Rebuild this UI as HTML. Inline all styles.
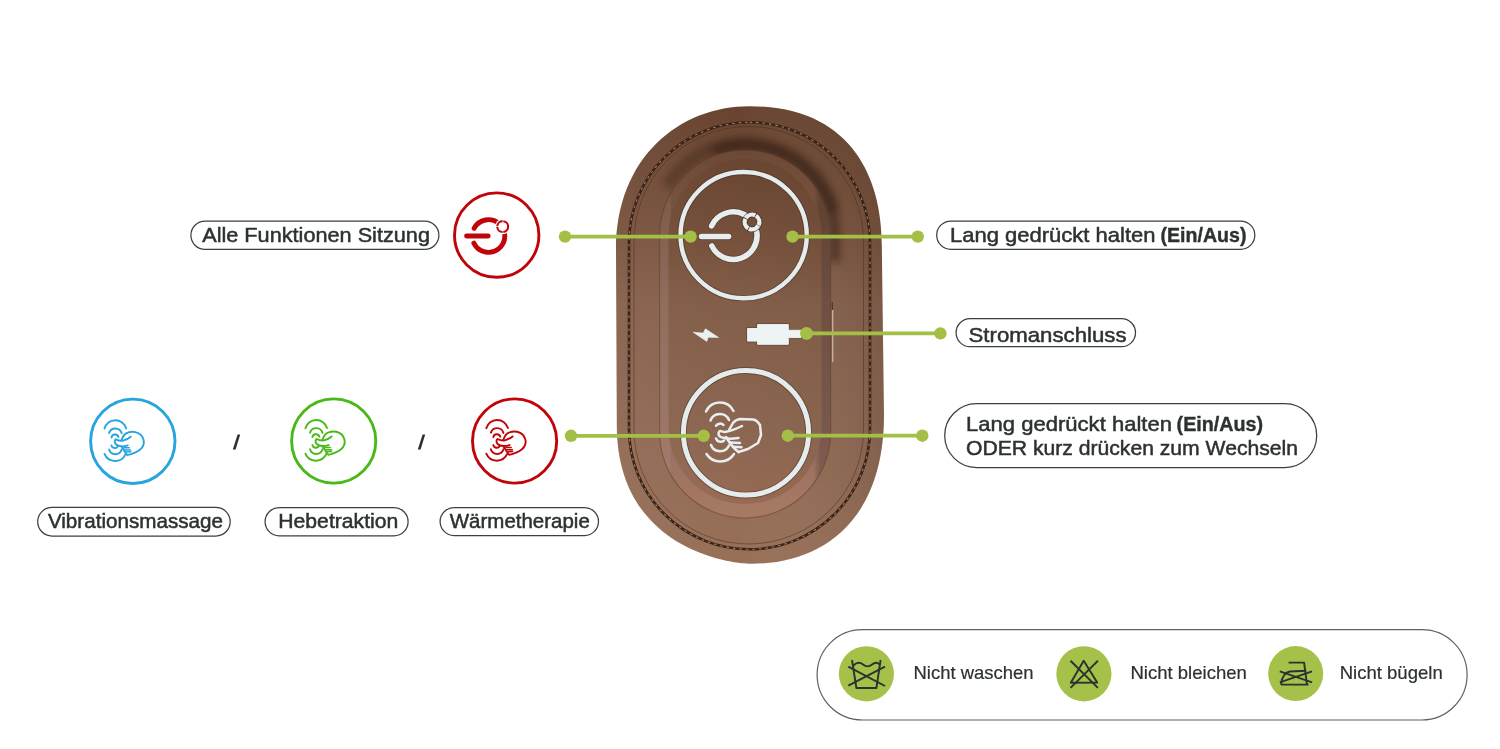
<!DOCTYPE html>
<html><head><meta charset="utf-8"><style>
html,body{margin:0;padding:0;background:#fff}
body{width:1500px;height:749px;overflow:hidden;position:relative;font-family:"Liberation Sans",sans-serif}
svg{position:absolute;left:0;top:0;will-change:transform}
</style></head><body>
<svg width="1500" height="749" viewBox="0 0 1500 749">
<defs>
  <linearGradient id="gOuter" x1="0" y1="106" x2="0" y2="565" gradientUnits="userSpaceOnUse">
    <stop offset="0" stop-color="#684430"/>
    <stop offset="0.28" stop-color="#7a553f"/>
    <stop offset="0.43" stop-color="#87624e"/>
    <stop offset="0.74" stop-color="#916b55"/>
    <stop offset="1" stop-color="#987058"/>
  </linearGradient>
  <linearGradient id="gInner" x1="0" y1="159" x2="0" y2="509" gradientUnits="userSpaceOnUse">
    <stop offset="0" stop-color="#6a4733"/>
    <stop offset="0.22" stop-color="#77513c"/>
    <stop offset="0.42" stop-color="#84604a"/>
    <stop offset="0.8" stop-color="#8e6852"/>
    <stop offset="1" stop-color="#9a6c56"/>
  </linearGradient>
  <linearGradient id="gBevel" x1="0" y1="150" x2="0" y2="518" gradientUnits="userSpaceOnUse">
    <stop offset="0" stop-color="#6c4935"/>
    <stop offset="0.42" stop-color="#8a6452"/>
    <stop offset="0.8" stop-color="#987060"/>
    <stop offset="1" stop-color="#a87a63"/>
  </linearGradient>
  <linearGradient id="gSide" x1="659.6" y1="0" x2="830.4" y2="0" gradientUnits="userSpaceOnUse">
    <stop offset="0" stop-color="#fff" stop-opacity="0.06"/>
    <stop offset="0.06" stop-color="#fff" stop-opacity="0.06"/>
    <stop offset="0.07" stop-color="#fff" stop-opacity="0"/>
    <stop offset="0.9" stop-color="#000" stop-opacity="0"/>
    <stop offset="0.94" stop-color="#000" stop-opacity="0.2"/>
    <stop offset="1" stop-color="#000" stop-opacity="0.2"/>
  </linearGradient>
  <linearGradient id="gSide2" x1="668.5" y1="0" x2="821.5" y2="0" gradientUnits="userSpaceOnUse">
    <stop offset="0" stop-color="#000" stop-opacity="0"/>
    <stop offset="1" stop-color="#000" stop-opacity="0.03"/>
  </linearGradient>
  <linearGradient id="gOuterSide" x1="616" y1="0" x2="882" y2="0" gradientUnits="userSpaceOnUse">
    <stop offset="0" stop-color="#fff" stop-opacity="0.03"/>
    <stop offset="0.45" stop-color="#fff" stop-opacity="0"/>
    <stop offset="1" stop-color="#000" stop-opacity="0.09"/>
  </linearGradient>
  <filter id="blur6" x="-20%" y="-20%" width="140%" height="140%"><feGaussianBlur stdDeviation="3.5"/></filter>
  <clipPath id="cMid"><rect x="634" y="126" width="229.5" height="418" rx="114.7"/></clipPath>
  <g id="massage" fill="none" stroke-linecap="round" stroke-linejoin="round">
    <path d="M130,228 A140,140 0 0 1 400,226"/>
    <path d="M187,283 A82,82 0 0 1 344,286"/>
    <path d="M217,339 A45,45 0 0 1 304,333"/>
    <path d="M130,545 A142,142 0 0 0 391,549"/>
    <path d="M187,490 A82,82 0 0 0 344,490"/>
    <path d="M216,438 A45,45 0 0 0 298,450"/>
    <path d="M344.7,368 C355,335 385,290 420,280 C445,270 480,264 515,272 C560,284 605,318 618,370 C628,420 610,462 572,492 C535,520 480,545 415,560"/>
    <path d="M458,330 C440,345 410,365 362,379 C335,384 300,378 270,362 C255,370 252,400 268,420 C285,440 320,450 350,450 C375,450 400,445 420,438"/>
    <path d="M344,455 C360,480 385,520 408,549"/>
    <path d="M374,467 L440,468 M388,495 L455,495 M402,522 L458,518" stroke-width="19"/>
  </g>
</defs>

<!-- ===== DEVICE ===== -->
<path id="outerShape" d="M749.5,106.2 C848.8,106.2 881.8,174.5 881.8,245.0 L884,415 C884.0,521.0 822.1,563.8 752.0,563.8 C730.4,563.8 616.8,549.3 616.8,425.0 L616,250 C616.0,156.8 680.0,106.2 749.5,106.2Z" fill="url(#gOuter)"/>
<path d="M749.5,106.2 C848.8,106.2 881.8,174.5 881.8,245.0 L884,415 C884.0,521.0 822.1,563.8 752.0,563.8 C730.4,563.8 616.8,549.3 616.8,425.0 L616,250 C616.0,156.8 680.0,106.2 749.5,106.2Z" fill="url(#gOuterSide)"/>
<!-- stitching -->
<rect x="629" y="122.3" width="241" height="427" rx="120.5" fill="none" stroke="#3b2317" stroke-width="2.6"/>
<rect x="629" y="122.3" width="241" height="427" rx="120.5" fill="none" stroke="#c0a081" stroke-width="1.1" stroke-dasharray="2.5 4" opacity="0.75"/>
<rect x="634" y="126.5" width="229.5" height="417.5" rx="114.7" fill="none" stroke="#4a2c1e" stroke-width="1" opacity="0.5"/>
<!-- shadow crescent at top -->
<g clip-path="url(#cMid)">
  <path d="M667.0,186.5 A92,92 0 0 1 833.9,211.5" fill="none" stroke="#3a2115" stroke-width="13" opacity="0.4" filter="url(#blur6)"/>
  <path d="M714.2,150.7 A90,90 0 0 1 834.7,227.5 L835,262" fill="none" stroke="#2a160c" stroke-width="10" opacity="0.5" filter="url(#blur6)"/>
</g>
<!-- inner raised panel -->
<rect x="659.6" y="150" width="171" height="368" rx="85.5" fill="url(#gBevel)"/>
<rect x="659.6" y="150" width="171" height="368" rx="85.5" fill="url(#gSide)"/>
<rect x="668.5" y="159" width="153" height="345" rx="76.5" fill="url(#gInner)"/>
<rect x="668.5" y="159" width="153" height="345" rx="76.5" fill="url(#gSide2)"/>
<rect x="659.6" y="150" width="171" height="368" rx="85.5" fill="none" stroke="#5a3828" stroke-width="1.2" opacity="0.45"/>
<!-- side slit -->
<line x1="832.3" y1="302" x2="832.3" y2="310" stroke="#3a2116" stroke-width="1.2" opacity="0.7"/>
<line x1="832.8" y1="310" x2="832.8" y2="362" stroke="#efe6dc" stroke-width="1" opacity="0.8"/>

<!-- top ring + power icon -->
<circle cx="743.65" cy="235.15" r="63.1" fill="none" stroke="#3d2619" stroke-width="6.2" opacity="0.4"/>
<circle cx="743.65" cy="235.15" r="63.1" fill="none" stroke="#e4ecee" stroke-width="4.4"/>
<g stroke="#3d2619" fill="none" stroke-linecap="round" opacity="0.4" stroke-width="7">
  <path d="M711.6,225.9 A23.8,23.8 0 0 1 744.2,214.55"/>
  <path d="M756.8,232.0 A23.8,23.8 0 0 1 711.8,245.9"/>
  <line x1="701.5" y1="236.4" x2="728.6" y2="236.4"/>
</g>
<g stroke="#e6eef0" fill="none" stroke-linecap="round">
  <path d="M711.6,225.9 A23.8,23.8 0 0 1 744.2,214.55" stroke-width="5.5"/>
  <path d="M756.8,232.0 A23.8,23.8 0 0 1 711.8,245.9" stroke-width="5.5"/>
  <line x1="701.5" y1="236.4" x2="728.6" y2="236.4" stroke-width="5.5"/>
  <circle cx="752" cy="222" r="7.35" stroke="#3d2619" stroke-width="6" opacity="0.55"/>
  <circle cx="752" cy="222" r="7.35" stroke-width="4.3" stroke-linecap="butt" stroke-dasharray="10.75 0.8" transform="rotate(30 752 222)"/>
</g>
<!-- power/usb symbols -->
<path d="M747.6,328.5 L757.6,328.5 L757.6,324.6 L788.3,324.6 L788.3,330.2 L801,330.2 L801,337.6 L788.3,337.6 L788.3,344.3 L757.6,344.3 L757.6,341.1 L747.6,341.1 Z" fill="none" stroke="#3d2619" stroke-width="2.6" stroke-linejoin="round" opacity="0.4"/>
<path d="M693.2,332.2 L703.3,333.1 L705.4,328.8 L718.6,337.5 L708.1,337.3 L706.8,341.4 Z" fill="#e9f0f1" stroke="#e9f0f1" stroke-width="0.6" stroke-linejoin="round"/>
<path d="M747.6,328.5 L757.6,328.5 L757.6,324.6 L788.3,324.6 L788.3,330.2 L801,330.2 L801,337.6 L788.3,337.6 L788.3,344.3 L757.6,344.3 L757.6,341.1 L747.6,341.1 Z" fill="#eef3f3" stroke="#eef3f3" stroke-width="1" stroke-linejoin="round"/>

<!-- bottom ring + massage icon -->
<ellipse cx="746" cy="432.8" rx="62.6" ry="62.3" fill="none" stroke="#3d2619" stroke-width="6.8" opacity="0.45"/>
<ellipse cx="746" cy="432.8" rx="62.6" ry="62.3" fill="none" stroke="#e4ecee" stroke-width="5"/>
<g fill="none" stroke="#e8eff1" stroke-width="2.5" stroke-linecap="round" stroke-linejoin="round">
  <path d="M706,411.5 A15.2,15.2 0 0 1 733.5,411"/>
  <path d="M710.5,420.5 A10,10 0 0 1 729,420"/>
  <path d="M716,425.8 A4.9,4.9 0 0 1 723.5,425"/>
  <path d="M716,438.5 A5,5 0 0 0 724,440.5"/>
  <path d="M711,445 A9.75,9.75 0 0 0 729,445.5"/>
  <path d="M706.5,454 A16.3,16.3 0 0 0 734,454"/>
  <path d="M729,430 L733,423 Q735,420 740,419 L753,419.5 Q757,420 760,425 L761,435 L758,443 L748,449 L738.5,452"/>
  <path d="M742,426 C738,428 731,431 725,432 C722,432 720.5,430 719.3,431.5 C717.8,433.5 718.5,436 721,437.2 C724,438.5 728,438.8 731,438.8 L738.5,438"/>
  <path d="M730.5,442.6 L740,443 M733,446.8 L741.5,447.2"/>
  <path d="M726,437 C729,442 733,448 738.5,452"/>
</g>

<!-- ===== GREEN CONNECTORS ===== -->
<g stroke="#a3bf45" stroke-width="3.8">
  <line x1="565" y1="236.6" x2="690.6" y2="236.6"/>
  <line x1="792.5" y1="236.6" x2="917.8" y2="236.6"/>
  <line x1="806.5" y1="333.4" x2="940.4" y2="333.4"/>
  <line x1="571" y1="435.8" x2="703.7" y2="435.8"/>
  <line x1="787.8" y1="435.7" x2="922.3" y2="435.7"/>
</g>
<g fill="#a3bf45">
  <circle cx="565" cy="236.6" r="6.2"/><circle cx="690.6" cy="236.6" r="6.2"/>
  <circle cx="792.5" cy="236.6" r="6.2"/><circle cx="917.8" cy="236.6" r="6.2"/>
  <circle cx="806.5" cy="333.4" r="6.4"/><circle cx="940.4" cy="333.4" r="6.2"/>
  <circle cx="571" cy="435.8" r="6.2"/><circle cx="703.7" cy="435.8" r="6.2"/>
  <circle cx="787.8" cy="435.7" r="6.2"/><circle cx="922.3" cy="435.7" r="6.2"/>
</g>

<!-- ===== LEFT ICONS ===== -->
<circle cx="496.7" cy="235.1" r="42.2" fill="none" stroke="#c1040a" stroke-width="2.9"/>
<g stroke="#c1040a" fill="none" stroke-linecap="round" stroke-width="4.9">
  <path d="M474.1,228.35 A16.3,16.3 0 1 1 473.85,243.15" />
  <line x1="466.6" y1="236" x2="488.2" y2="236"/>
</g>
<circle cx="502.7" cy="226.6" r="7.6" fill="#fff"/>
<circle cx="502.7" cy="226.6" r="5.45" fill="none" stroke="#c1040a" stroke-width="2.1" stroke-dasharray="7.75 0.8"/>

<circle cx="132.8" cy="441.3" r="42.2" fill="none" stroke="#29a5dd" stroke-width="2.9"/>
<use href="#massage" transform="translate(94.1,410.3) scale(0.0801)" stroke="#29a5dd" stroke-width="24"/>
<circle cx="333.7" cy="441" r="42.1" fill="none" stroke="#48b917" stroke-width="2.9"/>
<use href="#massage" transform="translate(295,410) scale(0.0801)" stroke="#48b917" stroke-width="24"/>
<circle cx="514.6" cy="441" r="42.1" fill="none" stroke="#c1040a" stroke-width="2.9"/>
<use href="#massage" transform="translate(475.9,410) scale(0.0801)" stroke="#c1040a" stroke-width="24"/>

<polygon points="237.6,434.6 240.2,434.6 235.6,449.4 232.8,449.4" fill="#2b322f"/>
<polygon points="422.6,434.6 425.2,434.6 420.6,449.4 417.8,449.4" fill="#2b322f"/>

<!-- ===== LABEL PILLS ===== -->
<g fill="none" stroke="#3b413e" stroke-width="1.25">
  <rect x="190.9" y="221.1" width="248" height="28.3" rx="14.15"/>
  <rect x="936.7" y="221" width="318.1" height="28.3" rx="14.15"/>
  <rect x="956.1" y="318.7" width="179.4" height="28" rx="14"/>
  <rect x="944.7" y="403.7" width="372" height="63.8" rx="31.9"/>
  <rect x="37.7" y="507.4" width="192.5" height="28.6" rx="14.3"/>
  <rect x="265.1" y="507.6" width="143" height="28.2" rx="14.1"/>
  <rect x="440.1" y="507.7" width="158.4" height="27.8" rx="13.9"/>
</g>
<g fill="#2b322f" stroke="#2b322f" stroke-width="0.5" font-family="Liberation Sans, sans-serif" font-size="21">
  <text x="202.2" y="242" textLength="227.8" lengthAdjust="spacingAndGlyphs">Alle Funktionen Sitzung</text>
  <text x="950" y="242.4" textLength="205.5" lengthAdjust="spacingAndGlyphs">Lang gedrückt halten</text>
  <text x="1160.5" y="242.4" textLength="86" lengthAdjust="spacingAndGlyphs" font-weight="bold" stroke-width="0.4">(Ein/Aus)</text>
  <text x="968.5" y="341.5" textLength="158" lengthAdjust="spacingAndGlyphs">Stromanschluss</text>
  <text x="966" y="430.7" textLength="206" lengthAdjust="spacingAndGlyphs">Lang gedrückt halten</text>
  <text x="1176.6" y="430.7" textLength="86.5" lengthAdjust="spacingAndGlyphs" font-weight="bold" stroke-width="0.4">(Ein/Aus)</text>
  <text x="966" y="455" textLength="332" lengthAdjust="spacingAndGlyphs">ODER kurz drücken zum Wechseln</text>
</g>
<g fill="#2b322f" stroke="#2b322f" stroke-width="0.5" font-family="Liberation Sans, sans-serif" font-size="20.3">
  <text x="47.9" y="527.7" textLength="175.1" lengthAdjust="spacingAndGlyphs">Vibrationsmassage</text>
  <text x="278.3" y="528" textLength="120" lengthAdjust="spacingAndGlyphs">Hebetraktion</text>
  <text x="449.8" y="527.8" textLength="140" lengthAdjust="spacingAndGlyphs">Wärmetherapie</text>
</g>

<!-- ===== CARE PILL ===== -->
<rect x="817.1" y="629.6" width="650" height="90.4" rx="45.2" fill="none" stroke="#5d6360" stroke-width="1.2"/>
<g fill="#a6c14a">
  <circle cx="866.4" cy="673.8" r="27.6"/>
  <circle cx="1083.9" cy="673.8" r="27.6"/>
  <circle cx="1295.7" cy="673.6" r="27.5"/>
</g>
<g stroke="#2b322f" stroke-width="1.9" fill="none" stroke-linejoin="round">
  <!-- wash tub -->
  <path d="M852,660 L856.4,688 L876.4,688 L880.6,660"/>
  <path d="M853.5,665.5 C857,662 860,662 863,664.5 C866,667 869,667 872,664.5 C875,662 878,662 880,665"/>
  <path d="M848.3,666.6 L885,686 M848.3,685.6 L885,666.6"/>
  <!-- bleach triangle -->
  <path d="M1083.7,660.8 L1070.8,682.8 L1097.2,682.5 Z"/>
  <path d="M1070.5,660.8 L1097.9,687.9 M1097.9,660.8 L1070.5,687.9"/>
  <!-- iron -->
  <path d="M1288.6,662.6 L1304.1,662.6 L1307,684.6"/>
  <path d="M1281,684.6 L1308.5,684.6 M1281,684.6 C1282,677 1285,672 1290,671.5 L1306.3,670.7"/>
  <path d="M1279.8,671.4 L1312.1,682.4 M1279.8,682.4 L1312.1,671.4"/>
</g>
<g fill="#2b322f" stroke="#2b322f" stroke-width="0.2" font-family="Liberation Sans, sans-serif" font-size="18.2">
  <text x="913.5" y="678.9" textLength="120" lengthAdjust="spacingAndGlyphs">Nicht waschen</text>
  <text x="1130.4" y="678.8" textLength="116.5" lengthAdjust="spacingAndGlyphs">Nicht bleichen</text>
  <text x="1339.7" y="678.7" textLength="103" lengthAdjust="spacingAndGlyphs">Nicht bügeln</text>
</g>
</svg>
</body></html>
